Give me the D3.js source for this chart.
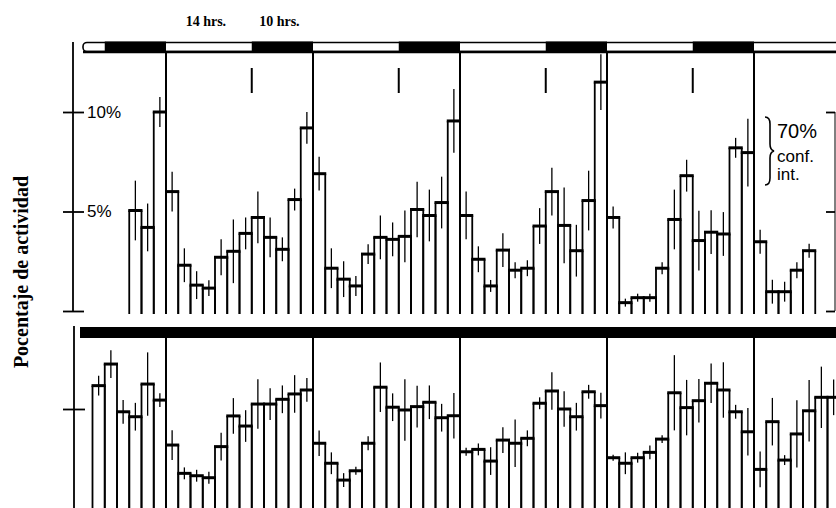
<!DOCTYPE html>
<html>
<head>
<meta charset="utf-8">
<script src="https://cdn.jsdelivr.net/npm/d3@7"></script>
<style>
  body { margin: 0; background: #fff; }
  svg { display: block; }
</style>
</head>
<body>
<div id="chart"></div>
<script>
// activity per 2-hour bin, top panel (14:10 light/dark), in %
var topVals = [5.05, 4.2, 10.0, 6.0, 2.3, 1.3, 1.15, 2.7, 3.0, 3.9, 4.7, 3.7, 3.1, 5.6, 9.2,
               6.9, 2.15, 1.6, 1.26, 2.86, 3.7, 3.6, 3.75, 5.1, 4.8, 5.45, 9.55,
               4.8, 2.6, 1.26, 3.06, 2.05, 2.15, 4.27, 6.0, 4.3, 3.03, 5.55, 11.5,
               4.7, 0.42, 0.67, 0.67, 2.15, 4.6, 6.8, 3.54, 3.96, 3.87, 8.2, 7.96,
               3.48, 0.97, 0.97, 2.05, 3.03];
// half width of the 70% confidence interval
var topErr = [1.5, 1.2, 0.75, 1.0, 0.85, 0.7, 0.4, 0.9, 1.6, 0.8, 1.3, 1.0, 0.6, 0.55, 0.8,
              0.85, 1.0, 0.9, 0.5, 0.5, 1.1, 0.85, 1.3, 1.4, 1.3, 1.3, 1.6,
              1.2, 0.65, 0.3, 0.85, 0.4, 0.4, 0.9, 1.2, 1.9, 1.3, 1.5, 1.4,
              0.55, 0.2, 0.2, 0.2, 0.3, 1.5, 0.8, 1.5, 1.1, 1.1, 0.5, 1.7,
              0.6, 0.6, 0.5, 0.4, 0.35];

// bottom panel (constant dark)
var botVals = [6.18, 7.27, 4.86, 4.61, 6.26, 5.45, 3.18, 1.75, 1.63, 1.53, 3.10, 4.65, 4.14,
               5.25, 5.25, 5.49, 5.76, 5.96, 3.27, 2.26, 1.41, 1.88, 3.27, 6.10, 5.09, 4.95,
               5.12, 5.34, 4.56, 4.66, 2.84, 2.96, 2.37, 3.43, 3.27, 3.52, 5.29, 5.91, 5.0,
               4.61, 5.87, 5.17, 2.54, 2.26, 2.54, 2.81, 3.48, 5.82, 5.07, 5.42, 6.30, 5.96,
               4.86, 3.85, 1.95, 4.36, 2.42, 3.74, 4.91, 5.59, 5.59];
var botErr = [0.5, 0.7, 0.6, 0.7, 1.6, 0.35, 0.75, 0.3, 0.3, 0.3, 0.7, 0.9, 0.8,
              1.25, 0.8, 0.7, 0.95, 0.6, 0.65, 0.55, 0.35, 0.2, 0.35, 1.25, 0.7, 1.55,
              1.05, 0.85, 0.7, 1.15, 0.2, 0.3, 0.7, 0.65, 1.2, 0.4, 0.3, 0.95, 0.9,
              0.7, 0.35, 0.65, 0.15, 0.55, 0.25, 0.35, 0.2, 1.9, 1.4, 1.1, 1.0, 1.4,
              0.35, 1.2, 0.9, 1.2, 0.25, 1.7, 1.55, 1.55, 0.9];

// hours, counted from the first lights-on
var darkPeriods = [[-10, 0], [14, 24], [38, 48], [62, 72], [86, 96]];
var lightsOn = [0, 24, 48, 72, 96];
var lightsOff = [14, 38, 62, 86];
var photoLabels = [{text: "14 hrs.", h: 7}, {text: "10 hrs.", h: 19}];
var topTicks = [0, 5, 10];
var botTicks = [5];

var width = 836, height = 508;
var binH = 2, topStart = -6, botStart = -12;

var x = d3.scaleLinear().domain([0, 24]).range([166, 313]);
var yTop = d3.scaleLinear().domain([0, 10]).range([311, 112]);
var yBot = d3.scaleLinear().domain([0, 5]).range([508, 409]);

var svg = d3.select("#chart").append("svg")
    .attr("width", width)
    .attr("height", height)
    .style("font-family", "'Liberation Sans', Arial, sans-serif");

svg.append("rect").attr("width", width).attr("height", height).attr("fill", "#fff");

function drawBars(g, vals, errs, start, y) {
  var base = y(0);
  var bars = vals.map(function(v, i) {
    return {v: v, e: errs[i], h0: start + i * binH, h1: start + (i + 1) * binH};
  });
  g.selectAll(".side")
      .data(bars)
    .enter().append("path")
      .attr("class", "side")
      .attr("d", function(d) {
        return "M" + x(d.h0) + "," + (base + 3) + "V" + y(d.v) +
               "M" + x(d.h1) + "," + y(d.v) + "V" + (base + 3);
      })
      .attr("stroke", "#000").attr("stroke-width", 1.8).attr("fill", "none");
  g.selectAll(".cap")
      .data(bars)
    .enter().append("line")
      .attr("class", "cap")
      .attr("x1", function(d) { return x(d.h0) - 1; })
      .attr("x2", function(d) { return x(d.h1) + 1; })
      .attr("y1", function(d) { return y(d.v); })
      .attr("y2", function(d) { return y(d.v); })
      .attr("stroke", "#000").attr("stroke-width", 3);
  g.selectAll(".err")
      .data(bars)
    .enter().append("line")
      .attr("class", "err")
      .attr("x1", function(d) { return x((d.h0 + d.h1) / 2); })
      .attr("x2", function(d) { return x((d.h0 + d.h1) / 2); })
      .attr("y1", function(d) { return y(d.v + d.e); })
      .attr("y2", function(d) { return y(Math.max(0, d.v - d.e)); })
      .attr("stroke", "#000").attr("stroke-width", 1.3);
}

// ---- top panel ----
var gTop = svg.append("g");

// light / dark strip
gTop.append("rect")
    .attr("x", 83).attr("y", 42.5).attr("width", width).attr("height", 9)
    .attr("rx", 4)
    .attr("fill", "#fff").attr("stroke", "#000").attr("stroke-width", 1.6);
gTop.selectAll(".dark")
    .data(darkPeriods)
  .enter().append("rect")
    .attr("class", "dark")
    .attr("x", function(d) { return x(d[0]); })
    .attr("width", function(d) { return x(d[1]) - x(d[0]); })
    .attr("y", 41.5).attr("height", 11)
    .attr("fill", "#000");
gTop.append("line")
    .attr("x1", 83).attr("x2", width).attr("y1", 52).attr("y2", 52)
    .attr("stroke", "#000").attr("stroke-width", 2.4);

gTop.selectAll(".photo")
    .data(photoLabels)
  .enter().append("text")
    .attr("x", function(d) { return x(d.h) - 3; })
    .attr("y", 26)
    .attr("text-anchor", "middle")
    .style("font-family", "'Liberation Serif', 'Times New Roman', serif")
    .style("font-weight", "bold")
    .style("font-size", "14px")
    .text(function(d) { return d.text; });

gTop.selectAll(".on")
    .data(lightsOn)
  .enter().append("line")
    .attr("x1", function(d) { return x(d); }).attr("x2", function(d) { return x(d); })
    .attr("y1", 52).attr("y2", yTop(0))
    .attr("stroke", "#000").attr("stroke-width", 2);

gTop.selectAll(".off")
    .data(lightsOff)
  .enter().append("line")
    .attr("x1", function(d) { return x(d); }).attr("x2", function(d) { return x(d); })
    .attr("y1", 68).attr("y2", 93)
    .attr("stroke", "#000").attr("stroke-width", 2);

drawBars(gTop, topVals, topErr, topStart, yTop);

// left axis
var axTop = gTop.append("g")
    .attr("transform", "translate(73,0)")
    .call(d3.axisRight(yTop).tickValues(topTicks).tickSize(10)
      .tickFormat(function(d) { return d ? d + "%" : ""; }));
axTop.select(".domain").remove();
axTop.append("line").attr("y1", 42).attr("y2", 312)
    .attr("stroke", "#000").attr("stroke-width", 1.8);
axTop.selectAll(".tick line").attr("x1", -10).attr("x2", 11)
    .attr("stroke", "#000").attr("stroke-width", 1.8);
axTop.selectAll(".tick text").attr("x", 14).attr("fill", "#000")
    .style("font-size", "17px").style("font-family", "'Liberation Sans', Arial, sans-serif");

// right axis
var axRight = gTop.append("g")
    .attr("transform", "translate(835,0)")
    .call(d3.axisLeft(yTop).tickValues(topTicks).tickSize(9).tickFormat(""));
axRight.select(".domain").remove();
axRight.append("line").attr("y1", yTop(10)).attr("y2", yTop(0))
    .attr("stroke", "#000").attr("stroke-width", 1);
axRight.selectAll(".tick line").attr("stroke", "#000").attr("stroke-width", 1.8);

// confidence interval note
var note = gTop.append("g").attr("transform", "translate(777,0)");
note.append("path")
    .attr("d", "M-12,117 Q-7,117 -7,124 L-7,144 Q-7,150 -3,151 Q-7,152 -7,158 L-7,178 Q-7,185 -12,185")
    .attr("fill", "none").attr("stroke", "#000").attr("stroke-width", 1.6);
note.selectAll("text")
    .data(["70%", "conf.", "int."])
  .enter().append("text")
    .attr("x", 0)
    .attr("y", function(d, i) { return [138, 162, 180][i]; })
    .style("font-size", function(d, i) { return i ? "17px" : "20px"; })
    .text(function(d) { return d; });

// ---- bottom panel ----
var gBot = svg.append("g");

gBot.append("rect")
    .attr("x", 80).attr("y", 327).attr("width", width - 80).attr("height", 11)
    .attr("fill", "#000");

gBot.selectAll(".on")
    .data(lightsOn)
  .enter().append("line")
    .attr("x1", function(d) { return x(d); }).attr("x2", function(d) { return x(d); })
    .attr("y1", 338).attr("y2", height)
    .attr("stroke", "#000").attr("stroke-width", 2);

drawBars(gBot, botVals, botErr, botStart, yBot);

var axBot = gBot.append("g")
    .attr("transform", "translate(74,0)")
    .call(d3.axisRight(yBot).tickValues(botTicks).tickSize(10).tickFormat(""));
axBot.select(".domain").remove();
axBot.append("line").attr("y1", 326).attr("y2", height)
    .attr("stroke", "#000").attr("stroke-width", 1.8);
axBot.selectAll(".tick line").attr("x1", -11).attr("x2", 11)
    .attr("stroke", "#000").attr("stroke-width", 1.8);

// y label
svg.append("text")
    .attr("transform", "translate(28,272) rotate(-90)")
    .attr("text-anchor", "middle")
    .style("font-family", "'Liberation Serif', 'Times New Roman', serif")
    .style("font-weight", "bold")
    .style("font-size", "20px")
    .text("Pocentaje de actividad");
</script>
</body>
</html>
